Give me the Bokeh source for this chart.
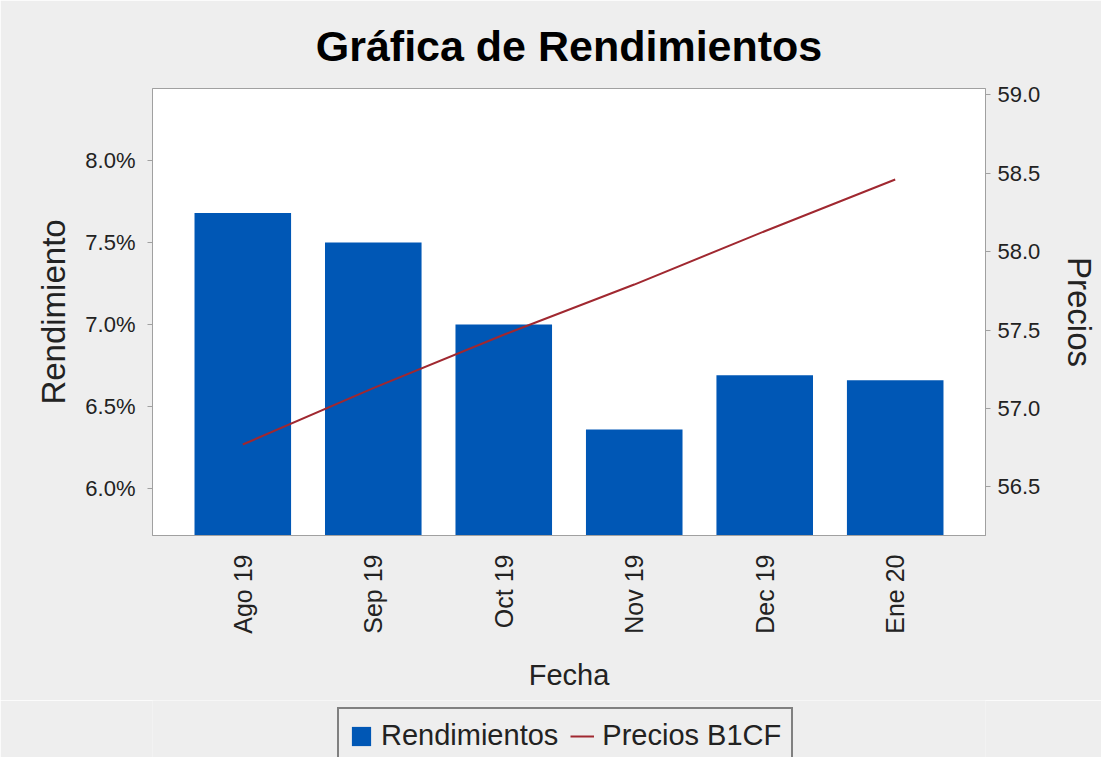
import math
from bokeh.plotting import figure
from bokeh.layouts import column
from bokeh.models import (Range1d, FactorRange, LinearAxis, FixedTicker, PrintfTickFormatter,
                          Legend, LegendItem, ColumnDataSource)
from bokeh.embed import file_html
from bokeh.resources import INLINE

# ---- data ----
fechas = ["Ago 19", "Sep 19", "Oct 19", "Nov 19", "Dec 19", "Ene 20"]
rendimientos = [7.68, 7.50, 7.00, 6.36, 6.69, 6.66]   # percent
precios_b1cf = [56.77, 57.13, 57.47, 57.79, 58.13, 58.46]
left_ticks = [6.0, 6.5, 7.0, 7.5, 8.0]
right_ticks = [56.5, 57.0, 57.5, 58.0, 58.5, 59.0]
series_names = ["Rendimientos", "Precios B1CF"]

FONT = "Liberation Sans"
GRAY_BG = "#eeeeee"
AXIS_GRAY = "#a0a0a0"
BAR_BLUE = "#0057b5"
LINE_RED = "#a02830"

src = ColumnDataSource(dict(fecha=fechas, rend=rendimientos, precio=precios_b1cf))

p = figure(width=1101, height=700, output_backend="svg", toolbar_location=None,
           x_range=FactorRange(*fechas, range_padding=0.064),
           y_range=Range1d(5.713, 8.44),
           min_border_left=152, min_border_right=107, min_border_top=88, min_border_bottom=165,
           title="Gráfica de Rendimientos")

p.extra_y_ranges = {"precios": Range1d(56.19, 59.04)}

p.border_fill_color = GRAY_BG
p.background_fill_color = "white"
p.outline_line_color = AXIS_GRAY
p.grid.visible = False

p.title.align = "center"
p.title.text_font = FONT
p.title.text_font_style = "bold"
p.title.text_font_size = "43px"
p.title.text_color = "black"
p.title.standoff = 38

bars = p.vbar(x="fecha", top="rend", bottom=5.713, width=0.74, source=src,
              fill_color=BAR_BLUE, line_color=None)
line = p.line(x="fecha", y="precio", source=src, y_range_name="precios",
              line_color=LINE_RED, line_width=2)

# left axis
ya = p.yaxis[0]
ya.ticker = FixedTicker(ticks=left_ticks)
ya.formatter = PrintfTickFormatter(format="%.1f%%")
ya.axis_label = "Rendimiento"

# right axis
ra = LinearAxis(y_range_name="precios", ticker=FixedTicker(ticks=right_ticks),
                formatter=PrintfTickFormatter(format="%.1f"), axis_label="Precios")
p.add_layout(ra, "right")

for ax in (ya, ra):
    ax.axis_line_color = AXIS_GRAY
    ax.major_tick_line_color = AXIS_GRAY
    ax.major_tick_in = 0
    ax.major_tick_out = 5
    ax.minor_tick_line_color = None
    ax.major_label_text_font = FONT
    ax.major_label_text_font_size = "22px"
    ax.major_label_text_color = "#222222"
    ax.axis_label_text_font = FONT
    ax.axis_label_text_font_size = "33px"
    ax.axis_label_text_font_style = "normal"
    ax.axis_label_text_color = "#222222"
ya.major_label_standoff = 12
ya.axis_label_standoff = 10
ra.major_label_standoff = 7
ra.axis_label_standoff = 18

xa = p.xaxis[0]
xa.axis_label = "Fecha"
xa.axis_line_color = AXIS_GRAY
xa.major_tick_line_color = None
xa.major_tick_out = 0
xa.major_label_orientation = math.pi / 2
xa.major_label_standoff = 19
xa.major_label_text_font = FONT
xa.major_label_text_font_size = "25px"
xa.major_label_text_color = "#222222"
xa.axis_label_text_font = FONT
xa.axis_label_text_font_size = "29px"
xa.axis_label_text_font_style = "normal"
xa.axis_label_text_color = "#222222"
xa.axis_label_standoff = 22

# legend strip below the chart (same series, drawn out of view so only the legend shows)
lg = figure(width=1101, height=57, output_backend="svg", toolbar_location=None,
            x_range=FactorRange(*fechas), y_range=Range1d(100, 101),
            x_axis_type=None, y_axis_type=None, min_border=0)
lg.border_fill_color = GRAY_BG
lg.background_fill_color = GRAY_BG
lg.outline_line_color = None
lg.grid.visible = False
lb = lg.vbar(x="fecha", top="rend", bottom=5.713, width=0.74, source=src,
             fill_color=BAR_BLUE, line_color=None)
ll = lg.line(x="fecha", y="precio", source=src, line_color=LINE_RED, line_width=2)

legend = Legend(items=[LegendItem(label=series_names[0], renderers=[lb]),
                       LegendItem(label=series_names[1], renderers=[ll])],
                orientation="horizontal", location=(185, -7))
legend.label_text_font = FONT
legend.label_text_font_size = "29px"
legend.label_text_color = "#222222"
legend.border_line_color = "#111111"
legend.border_line_width = 2
legend.background_fill_color = GRAY_BG
legend.background_fill_alpha = 1
legend.glyph_width = 24
legend.glyph_height = 24
legend.label_standoff = 8
legend.spacing = 12
legend.padding = 10
legend.margin = 0
lg.add_layout(legend, "center")

layout = column(p, lg, spacing=0)
open("out.html", "w").write(file_html(layout, INLINE))
